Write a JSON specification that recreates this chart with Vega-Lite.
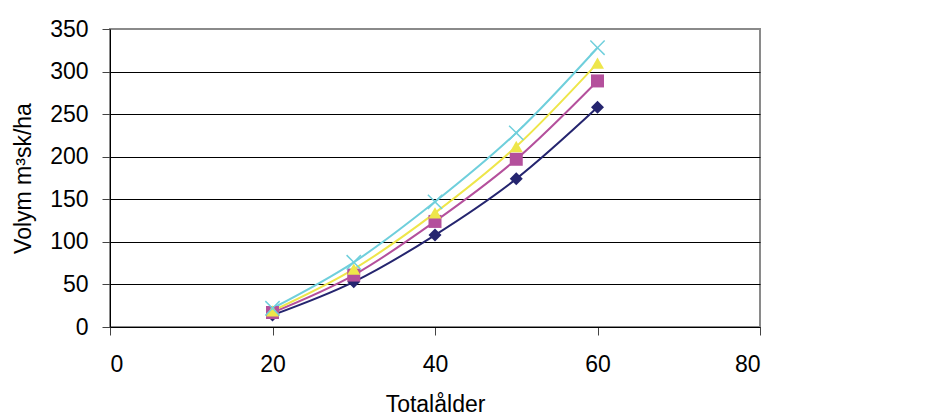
{
  "$schema": "https://vega.github.io/schema/vega-lite/v6.json",
  "autosize": {"type": "none"},
  "padding": {"left": 110, "top": 29, "right": 170, "bottom": 87},
  "width": 650,
  "height": 298,
  "background": "white",
  "config": {
    "font": "Liberation Sans",
    "view": {"stroke": "#8a8a8a", "strokeWidth": 2},
    "axis": {
      "labelFont": "Liberation Sans",
      "titleFont": "Liberation Sans",
      "labelFontSize": 23,
      "titleFontSize": 23,
      "titleFontWeight": "normal",
      "labelColor": "black",
      "titleColor": "black",
      "domainColor": "black",
      "domainWidth": 1,
      "tickColor": "#444",
      "tickSize": 8,
      "tickWidth": 1
    }
  },
  "data": {
    "values": [
      {"alder": 20, "volym": 14, "serie": "1500"},
      {"alder": 30, "volym": 53, "serie": "1500"},
      {"alder": 40, "volym": 108, "serie": "1500"},
      {"alder": 50, "volym": 174, "serie": "1500"},
      {"alder": 60, "volym": 258, "serie": "1500"},
      {"alder": 20, "volym": 17, "serie": "2000"},
      {"alder": 30, "volym": 61, "serie": "2000"},
      {"alder": 40, "volym": 124, "serie": "2000"},
      {"alder": 50, "volym": 197, "serie": "2000"},
      {"alder": 60, "volym": 289, "serie": "2000"},
      {"alder": 20, "volym": 19, "serie": "2500"},
      {"alder": 30, "volym": 68, "serie": "2500"},
      {"alder": 40, "volym": 134, "serie": "2500"},
      {"alder": 50, "volym": 212, "serie": "2500"},
      {"alder": 60, "volym": 310, "serie": "2500"},
      {"alder": 20, "volym": 22, "serie": "3000"},
      {"alder": 30, "volym": 76, "serie": "3000"},
      {"alder": 40, "volym": 147, "serie": "3000"},
      {"alder": 50, "volym": 228, "serie": "3000"},
      {"alder": 60, "volym": 328, "serie": "3000"}
    ]
  },
  "encoding": {
    "x": {
      "field": "alder", "type": "quantitative",
      "scale": {"domain": [0, 80], "nice": false, "zero": false},
      "axis": {"values": [0, 20, 40, 60, 80], "grid": false, "title": "Totalålder", "labelPadding": 18, "titlePadding": 17}
    },
    "y": {
      "field": "volym", "type": "quantitative",
      "scale": {"domain": [0, 350], "nice": false},
      "axis": {
        "values": [0, 50, 100, 150, 200, 250, 300, 350],
        "grid": true,
        "gridColor": {"condition": {"test": "datum.value == 350 || datum.value == 0", "value": "#8a8a8a"}, "value": "black"},
        "gridWidth": 1,
        "title": "Volym m³sk/ha",
        "labelPadding": 14,
        "titlePadding": 14
      }
    }
  },
  "layer": [
    {
      "mark": {"type": "line", "interpolate": "monotone", "strokeWidth": 2},
      "encoding": {
        "stroke": {
          "field": "serie", "type": "nominal",
          "scale": {"domain": ["1500", "2000", "2500", "3000"], "range": ["#25256f", "#b4509c", "#eee64a", "#6fcfdc"]},
          "legend": null
        }
      }
    },
    {
      "mark": {"type": "point", "size": 169, "opacity": 1, "filled": true},
      "encoding": {
        "color": {
          "field": "serie", "type": "nominal",
          "scale": {"domain": ["1500", "2000", "2500", "3000"], "range": ["#25256f", "#b4509c", "#eee64a", "#6fcfdc"]},
          "legend": {
            "title": null,
            "orient": "none",
            "legendX": 690,
            "legendY": 69,
            "padding": 10,
            "rowPadding": 16,
            "strokeColor": "black",
            "fillColor": "white",
            "labelFont": "Liberation Sans",
            "labelFontSize": 23,
            "labelColor": "black",
            "symbolSize": 169,
            "symbolStrokeWidth": 0,
            "symbolOffset": 19.5,
            "labelOffset": 47
          }
        },
        "shape": {
          "field": "serie", "type": "nominal",
          "scale": {"domain": ["1500", "2000", "2500", "3000"], "range": ["diamond", "square", "triangle-up", "M0,-0.16L1.02,-1.18L1.18,-1.02L0.16,0L1.18,1.02L1.02,1.18L0,0.16L-1.02,1.18L-1.18,1.02L-0.16,0L-1.18,-1.02L-1.02,-1.18Z"]},
          "legend": {
            "title": null,
            "orient": "none",
            "legendX": 690,
            "legendY": 69,
            "padding": 10,
            "rowPadding": 16,
            "strokeColor": "black",
            "fillColor": "white",
            "labelFont": "Liberation Sans",
            "labelFontSize": 23,
            "labelColor": "black",
            "symbolSize": 169,
            "symbolStrokeWidth": 0,
            "symbolOffset": 19.5,
            "labelOffset": 47,
            "encode": {
              "symbols": {
                "update": {
                  "shape": {"signal": "datum.value == '1500' ? 'M-4.3,-0.12H4.3V0.12H-4.3ZM-1,0L0,-1L1,0L0,1Z' : datum.value == '2000' ? 'M-4.3,-0.12H4.3V0.12H-4.3ZM-1,-1H1V1H-1Z' : datum.value == '2500' ? 'M-4.3,-0.12H4.3V0.12H-4.3ZM0,-1.1L1,0.85H-1Z' : 'M-4.3,-0.12H4.3V0.12H-4.3ZM0,-0.16L1.02,-1.18L1.18,-1.02L0.16,0L1.18,1.02L1.02,1.18L0,0.16L-1.02,1.18L-1.18,1.02L-0.16,0L-1.18,-1.02L-1.02,-1.18Z'"}
                }
              }
            }
          }
        }
      }
    }
  ]
}
